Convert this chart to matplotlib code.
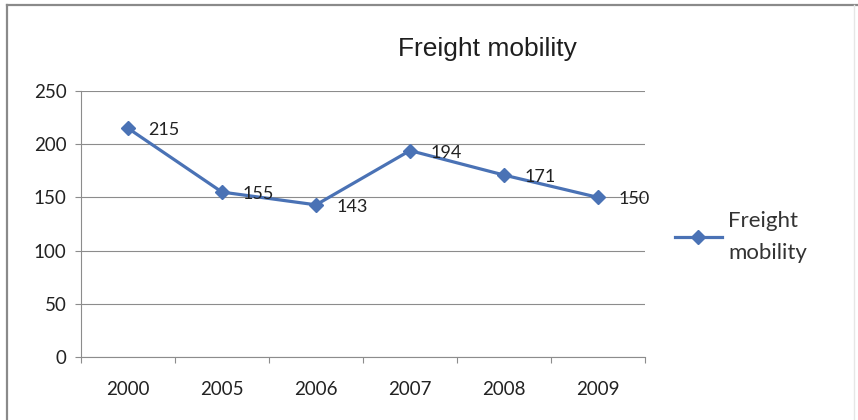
import matplotlib
matplotlib.use("Agg")
import matplotlib.pyplot as plt
from matplotlib.lines import Line2D
import numpy as np

years = ["2000", "2005", "2006", "2007", "2008", "2009"]
values = [215, 155, 143, 194, 171, 150]
series_name = "Freight mobility"
title = "Freight mobility"
yticks = [0, 50, 100, 150, 200, 250]

W, H = 858, 420
fig = plt.figure(figsize=(W / 100, H / 100), dpi=100)
fig.patch.set_facecolor("white")

# axes placement in pixels
left, right, top, bottom = 81, 645, 91, 357
ax = fig.add_axes([left / W, 1 - bottom / H, (right - left) / W, (bottom - top) / H])

blue = "#4A72B5"
grid_c = "#8C8C8C"
txt_c = "#222222"
tick_font = ["Lato", "DejaVu Sans"]

x = np.arange(len(years))
ax.plot(x, values, color=blue, lw=2.3, marker="D", markersize=7.5,
        markerfacecolor=blue, markeredgecolor=blue, label="Freight\nmobility",
        zorder=3)

for xi, v in zip(x, values):
    ax.annotate(str(v), (xi, v), xytext=(14.5, -1.5), textcoords="offset points",
                ha="left", va="center", fontsize=13, color=txt_c,
                family=tick_font, zorder=4)

ax.set_xlim(-0.5, len(years) - 0.5)
ax.set_ylim(0, 250)
ax.set_yticks(yticks)
ax.set_yticklabels([str(t) for t in yticks])
ax.set_xticks(x)
ax.set_xticklabels(years)
ax.set_xticks(np.arange(-0.5, len(years)), minor=True)

for lab in ax.get_xticklabels() + ax.get_yticklabels():
    lab.set_family(tick_font)
    lab.set_fontsize(13.5)
    lab.set_color(txt_c)

ax.tick_params(axis="x", which="major", length=0, pad=17)
ax.tick_params(axis="x", which="minor", length=4.5, width=0.8, color=grid_c, direction="out")
ax.tick_params(axis="y", which="major", length=4.5, width=0.8, color=grid_c, direction="out", pad=6)

ax.grid(axis="y", color=grid_c, lw=0.8)
ax.set_axisbelow(True)
for s in ["top", "right"]:
    ax.spines[s].set_visible(False)
for s in ["left", "bottom"]:
    ax.spines[s].set_color(grid_c)
    ax.spines[s].set_linewidth(0.8)

fig.text(487 / W, 1 - 49 / H, title, ha="center", va="center", fontsize=19,
         color="#1E1E1E", family=["Liberation Sans", "DejaVu Sans"])

leg = ax.legend(loc="center left", bbox_to_anchor=(675 / W, 1 - 237 / H),
                bbox_transform=fig.transFigure, frameon=False,
                prop={"family": tick_font, "size": 16}, handlelength=2.1,
                handletextpad=0.3, borderpad=0, borderaxespad=0)
for t in leg.get_texts():
    t.set_color("#333333")
    t.set_linespacing(1.7)

# outer chart border
fig.add_artist(Line2D([7 / W, 1], [1 - 5 / H, 1 - 5 / H], transform=fig.transFigure,
                      color="#8A8A8A", lw=1.6))
fig.add_artist(Line2D([7 / W, 7 / W], [0, 1 - 5 / H], transform=fig.transFigure,
                      color="#8A8A8A", lw=1.6))
fig.add_artist(Line2D([854 / W, 854 / W], [0, 1 - 5 / H], transform=fig.transFigure,
                      color="#E6E6E6", lw=1.0))

fig.savefig("out.png", dpi=100, facecolor="white")
